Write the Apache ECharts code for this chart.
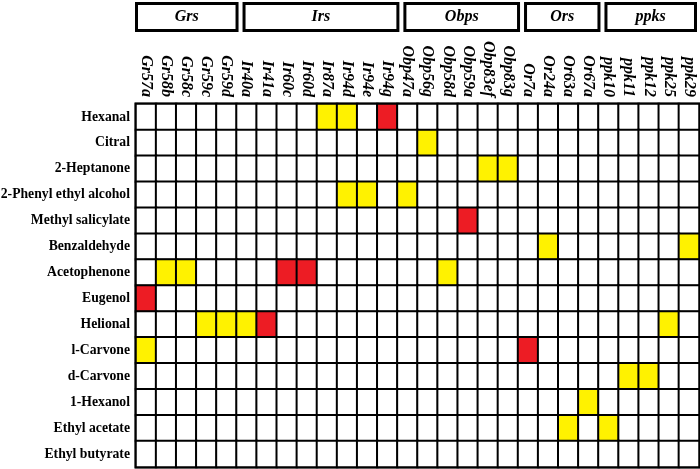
<!DOCTYPE html>
<html>
<head>
<meta charset="utf-8">
<script src="https://cdn.jsdelivr.net/npm/echarts@6/dist/echarts.min.js"></script>
<style>
  html, body { margin: 0; padding: 0; background: #fff; }
  #chart { width: 700px; height: 469px; }
</style>
</head>
<body>
<div id="chart"></div>
<script>
// Receptor / binding-protein genes (columns)
const genes = [
    'Gr57a', 'Gr58b', 'Gr58c', 'Gr59c', 'Gr59d',
    'Ir40a', 'Ir41a', 'Ir60c', 'Ir60d', 'Ir87a', 'Ir94d', 'Ir94e', 'Ir94g',
    'Obp47a', 'Obp56g', 'Obp58d', 'Obp59a', 'Obp83ef', 'Obp83g',
    'Or7a', 'Or24a', 'Or63a', 'Or67a',
    'ppk10', 'ppk11', 'ppk12', 'ppk25', 'ppk29'
];

// Gene families shown as boxed headers, with how many columns each spans
const groupNames = ['Grs', 'Irs', 'Obps', 'Ors', 'ppks'];
const groupSizes = [5, 8, 6, 4, 5];

// Odorants (rows)
const odorants = [
    'Hexanal', 'Citral', '2-Heptanone', '2-Phenyl ethyl alcohol', 'Methyl salicylate',
    'Benzaldehyde', 'Acetophenone', 'Eugenol', 'Helional', 'l-Carvone',
    'd-Carvone', '1-Hexanol', 'Ethyl acetate', 'Ethyl butyrate'
];

// Yellow cells: [odorant, gene]
const yellowHits = [
    ['Hexanal', 'Ir87a'], ['Hexanal', 'Ir94d'],
    ['Citral', 'Obp56g'],
    ['2-Heptanone', 'Obp83ef'], ['2-Heptanone', 'Obp83g'],
    ['2-Phenyl ethyl alcohol', 'Ir94d'], ['2-Phenyl ethyl alcohol', 'Ir94e'], ['2-Phenyl ethyl alcohol', 'Obp47a'],
    ['Benzaldehyde', 'Or24a'], ['Benzaldehyde', 'ppk29'],
    ['Acetophenone', 'Gr58b'], ['Acetophenone', 'Gr58c'], ['Acetophenone', 'Obp58d'],
    ['Helional', 'Gr59c'], ['Helional', 'Gr59d'], ['Helional', 'Ir40a'], ['Helional', 'ppk25'],
    ['l-Carvone', 'Gr57a'],
    ['d-Carvone', 'ppk11'], ['d-Carvone', 'ppk12'],
    ['1-Hexanol', 'Or67a'],
    ['Ethyl acetate', 'Or63a'], ['Ethyl acetate', 'ppk10']
];

// Red cells: [odorant, gene]
const redHits = [
    ['Hexanal', 'Ir94g'],
    ['Methyl salicylate', 'Obp59a'],
    ['Acetophenone', 'Ir60c'], ['Acetophenone', 'Ir60d'],
    ['Eugenol', 'Gr57a'],
    ['Helional', 'Ir41a'],
    ['l-Carvone', 'Or7a']
];

const levelColors = ['#ffffff', '#fff200', '#ed1c24'];
const serif = '"Liberation Serif", "Times New Roman", serif';

// Build the full matrix: 0 = white, 1 = yellow, 2 = red
const cellLevel = {};
yellowHits.forEach(([o, g]) => { cellLevel[o + '|' + g] = 1; });
redHits.forEach(([o, g]) => { cellLevel[o + '|' + g] = 2; });

const heatData = [];
odorants.forEach((o, yi) => {
    genes.forEach((g, xi) => {
        heatData.push([xi, yi, cellLevel[o + '|' + g] || 0]);
    });
});

const chart = echarts.init(document.getElementById('chart'));

chart.setOption({
    animation: false,
    backgroundColor: '#fff',
    grid: {
        left: 136,
        right: 1,
        top: 104,
        bottom: 2,
        outerBoundsMode: 'none',
        containLabel: false,
        show: true,
        borderColor: '#000',
        borderWidth: 3,
        backgroundColor: '#fff'
    },
    xAxis: {
        type: 'category',
        data: genes,
        position: 'top',
        axisLine: { show: false },
        axisTick: { show: false },
        splitLine: { show: false },
        axisLabel: {
            interval: 0,
            rotate: 90,
            margin: 7,
            color: '#000',
            fontFamily: serif,
            fontStyle: 'italic',
            fontWeight: 'bold',
            fontSize: 16
        }
    },
    yAxis: {
        type: 'category',
        data: odorants,
        inverse: true,
        axisLine: { show: false },
        axisTick: { show: false },
        splitLine: { show: false },
        axisLabel: {
            interval: 0,
            margin: 6,
            color: '#000',
            fontFamily: serif,
            fontWeight: 'bold',
            fontSize: 13.7
        }
    },
    visualMap: {
        show: false,
        type: 'piecewise',
        dimension: 2,
        pieces: [
            { value: 0, color: levelColors[0] },
            { value: 1, color: levelColors[1] },
            { value: 2, color: levelColors[2] }
        ]
    },
    series: [{
        type: 'heatmap',
        data: heatData,
        itemStyle: { borderColor: '#000', borderWidth: 2 },
        emphasis: { disabled: true }
    }]
});

// Group header boxes, placed from the x axis scale
const colWidth = chart.convertToPixel({ gridIndex: 0 }, [1, 0])[0] - chart.convertToPixel({ gridIndex: 0 }, [0, 0])[0];
const colLeft = (i) => chart.convertToPixel({ gridIndex: 0 }, [i, 0])[0] - colWidth / 2;

const headerGraphics = [];
let start = 0;
groupNames.forEach((name, gi) => {
    const end = start + groupSizes[gi];
    const first = gi === 0;
    const last = gi === groupNames.length - 1;
    const x0 = colLeft(start) + (first ? -1 : 6);
    const x1 = colLeft(start) + colWidth * groupSizes[gi] + (last ? -2 : 2);
    headerGraphics.push({
        type: 'rect',
        shape: { x: x0 + 1.5, y: 3.5, width: x1 - x0 - 3, height: 27 },
        style: { fill: '#fff', stroke: '#000', lineWidth: 3 }
    });
    headerGraphics.push({
        type: 'text',
        x: (x0 + x1) / 2,
        y: 17,
        style: {
            text: name,
            align: 'center',
            verticalAlign: 'middle',
            fill: '#000',
            font: 'italic bold 16px ' + serif
        }
    });
    start = end;
});

chart.setOption({ graphic: headerGraphics });
</script>
</body>
</html>
